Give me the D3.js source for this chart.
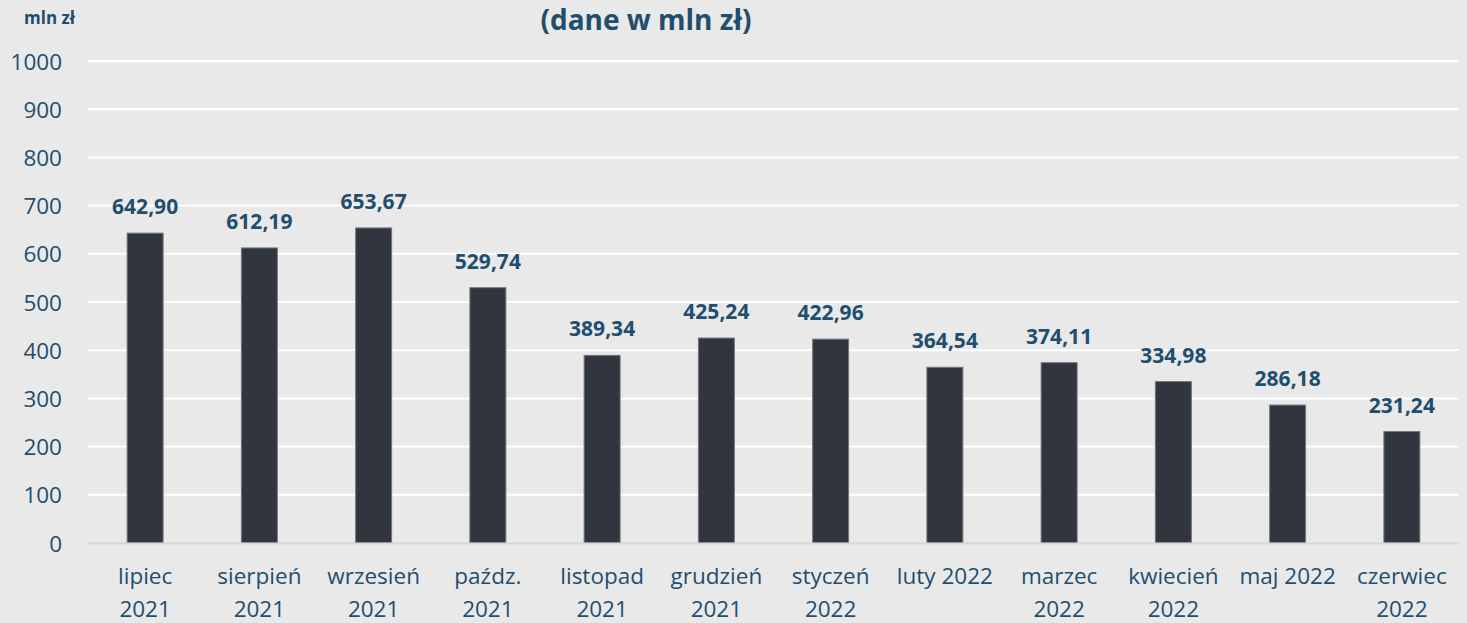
<!DOCTYPE html>
<html><head><meta charset="utf-8">
<script src="https://cdn.jsdelivr.net/npm/d3@7"></script>
<style>body{margin:0;background:#e9e9e9;}svg{display:block;}</style>
</head><body>
<script>
const categories = [["lipiec","2021"],["sierpień","2021"],["wrzesień","2021"],["paźdz.","2021"],["listopad","2021"],["grudzień","2021"],["styczeń","2022"],["luty 2022"],["marzec","2022"],["kwiecień","2022"],["maj 2022"],["czerwiec","2022"]];
const values = [642.90,612.19,653.67,529.74,389.34,425.24,422.96,364.54,374.11,334.98,286.18,231.24];
const yTicks = [0,100,200,300,400,500,600,700,800,900,1000];
const title = "(dane w mln zł)";
const unit = "mln zł";

const W = 1467, H = 623;
const textColor = "#1f4e6e";
const svg = d3.select("body").append("svg").attr("width", W).attr("height", H)
  .style("font-family", "'Open Sans', sans-serif");
svg.append("rect").attr("width", W).attr("height", H).attr("fill", "#e9e9e9");

const x = d3.scaleBand().domain(d3.range(categories.length)).range([88, 1459]).padding(0);
const y = d3.scaleLinear().domain([0, 1000]).range([543, 61]);
const barW = x.bandwidth() * 0.315;

// gridlines
svg.append("g").selectAll("line").data(yTicks.filter(d => d > 0)).join("line")
  .attr("x1", 88).attr("x2", 1459).attr("y1", d => y(d)).attr("y2", d => y(d))
  .attr("stroke", "#ffffff").attr("stroke-width", 2);

// y axis labels
const yAxis = d3.axisLeft(y).tickValues(yTicks).tickSize(0).tickPadding(0).tickFormat(d3.format("d"));
const ga = svg.append("g").attr("transform", "translate(62,0)").call(yAxis);
ga.select(".domain").remove();
ga.selectAll("text").attr("fill", textColor).style("font-size", "22.5px").style("font-family", "'Open Sans', sans-serif").attr("dy", "0.36em");

// bars
svg.append("g").selectAll("rect").data(values).join("rect")
  .attr("x", (d, i) => x(i) + x.bandwidth() / 2 - barW / 2)
  .attr("width", barW)
  .attr("y", d => y(d))
  .attr("height", d => y(0) - y(d))
  .attr("fill", "#31353e").attr("stroke", "#75787e").attr("stroke-width", 1);

// baseline
svg.append("line").attr("x1", 88).attr("x2", 1459).attr("y1", y(0) + 0.5).attr("y2", y(0) + 0.5)
  .attr("stroke", "#d6d6d6").attr("stroke-width", 2);

// value labels
const fmt = v => d3.format(".2f")(v).replace(".", ",");
svg.append("g").selectAll("text").data(values).join("text")
  .attr("x", (d, i) => x(i) + x.bandwidth() / 2)
  .attr("y", d => y(d) - 19)
  .attr("text-anchor", "middle").attr("fill", textColor)
  .style("font-size", "21px").style("font-weight", "bold")
  .text(fmt);

// category labels
const cg = svg.append("g").selectAll("text").data(categories).join("text")
  .attr("text-anchor", "middle").attr("fill", textColor).style("font-size", "22.5px");
cg.each(function(d, i) {
  const t = d3.select(this);
  d.forEach((line, j) => {
    t.append("tspan").attr("x", x(i) + x.bandwidth() / 2).attr("y", 584 + j * 32.5).text(line);
  });
});

// title
svg.append("text").attr("x", 646).attr("y", 30).attr("text-anchor", "middle")
  .attr("fill", textColor).style("font-size", "28px").style("font-weight", "bold").text(title);

// unit
svg.append("text").attr("x", 24).attr("y", 24).attr("fill", textColor)
  .style("font-size", "17px").style("font-weight", "bold").text(unit);
</script>
</body></html>
